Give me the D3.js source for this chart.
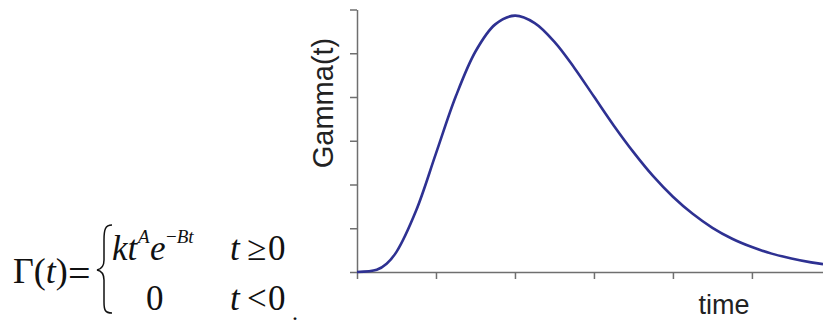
<!DOCTYPE html>
<html>
<head>
<meta charset="utf-8">
<script src="https://cdn.jsdelivr.net/npm/d3@7"></script>
<style>
  body { margin: 0; background: #fff; }
  svg { display: block; }
</style>
</head>
<body>
<div id="chart"></div>
<script>
// values (y in tick units, one tick = 1)
const times = [0, 0.25, 0.375, 0.5, 0.75, 1, 1.25, 1.5, 1.75, 2, 2.25, 2.5, 2.75, 3,
  3.25, 3.5, 3.75, 4, 4.25, 4.5, 4.75, 5, 5.25, 5.5, 5.75, 5.9];
const gamma = [0, 0.05, 0.19, 0.46, 1.41, 2.71, 4.01, 5.04, 5.66, 5.86, 5.69, 5.26, 4.67, 4.01,
  3.35, 2.74, 2.19, 1.72, 1.33, 1.01, 0.76, 0.57, 0.42, 0.31, 0.22, 0.18];
const xTicks = [0, 1, 2, 3, 4, 5];
const yTicks = [0, 1, 2, 3, 4, 5, 6];

const W = 823, H = 322;
const axisColor = "#6f6f6f";
const lineColor = "#2e3192";

const svg = d3.select("#chart").append("svg")
  .attr("width", W).attr("height", H);

const x = d3.scaleLinear().domain([0, 5.9]).range([357, 823]);
const y = d3.scaleLinear().domain([0, 6]).range([272, 9.5]);

// axes
const gx = svg.append("g")
  .attr("transform", `translate(0,${y(0)})`)
  .call(d3.axisBottom(x).tickValues(xTicks).tickSize(7).tickSizeOuter(0).tickFormat(""));
const gy = svg.append("g")
  .attr("transform", `translate(${x(0)},0)`)
  .call(d3.axisLeft(y).tickValues(yTicks).tickSize(7).tickSizeOuter(0).tickFormat(""));
for (const g of [gx, gy]) {
  g.selectAll("path, line").attr("stroke", axisColor).attr("stroke-width", 1.5);
}

// curve
const line = d3.line()
  .x((d, i) => x(times[i]))
  .y(d => y(d))
  .curve(d3.curveCatmullRom);
svg.append("path")
  .datum(gamma)
  .attr("d", line)
  .attr("fill", "none")
  .attr("stroke", lineColor)
  .attr("stroke-width", 2.6);

// axis titles
svg.append("text")
  .attr("transform", "translate(333,103) rotate(-90)")
  .attr("text-anchor", "middle")
  .style("font-family", "Liberation Sans, Arial, sans-serif")
  .style("font-size", "29px")
  .attr("fill", "#222")
  .text("Gamma(t)");
svg.append("text")
  .attr("x", 724).attr("y", 314)
  .attr("text-anchor", "middle")
  .style("font-family", "Liberation Sans, Arial, sans-serif")
  .style("font-size", "27px")
  .attr("fill", "#222")
  .text("time");

// formula
const serif = "Liberation Serif, Times New Roman, serif";
const f = svg.append("g").attr("fill", "#111").style("font-family", serif);
function put(txt, px, py, size, italic) {
  return f.append("text").attr("x", px).attr("y", py)
    .style("font-size", size + "px")
    .style("font-style", italic ? "italic" : "normal")
    .text(txt);
}

const big = f.append("text").attr("x", 13).attr("y", 283).style("font-size", "36px");
big.append("tspan").text("Γ(");
big.append("tspan").style("font-style", "italic").text("t");
big.append("tspan").text(")");
put("=", 68, 287, 40, false);

// brace
f.append("path")
  .attr("d", "M112,225 C105,225 104,230 104,240 L104,260 C104,266 102,269 97,270 C102,271 104,274 104,280 L104,302 C104,310 105,313 112,313")
  .attr("fill", "none").attr("stroke", "#111").attr("stroke-width", 1.5);

// row 1
put("kt", 112, 260, 35, true);
put("A", 138, 243, 19, true);
put("e", 150, 260, 35, true);
const sup = f.append("text").attr("x", 166).attr("y", 243).style("font-size", "19px");
sup.append("tspan").text("−");
sup.append("tspan").style("font-style", "italic").text("Bt");

put("t", 230, 260, 35, true);
put("≥", 247, 260, 35, false);
put("0", 268, 260, 35, false);

// row 2
put("0", 146, 310, 35, false);
put("t", 230, 310, 35, true);
put("<", 247, 310, 35, false);
put("0", 268, 310, 35, false);

// stray dot at the bottom
put(".", 292, 320, 24, false);
</script>
</body>
</html>
